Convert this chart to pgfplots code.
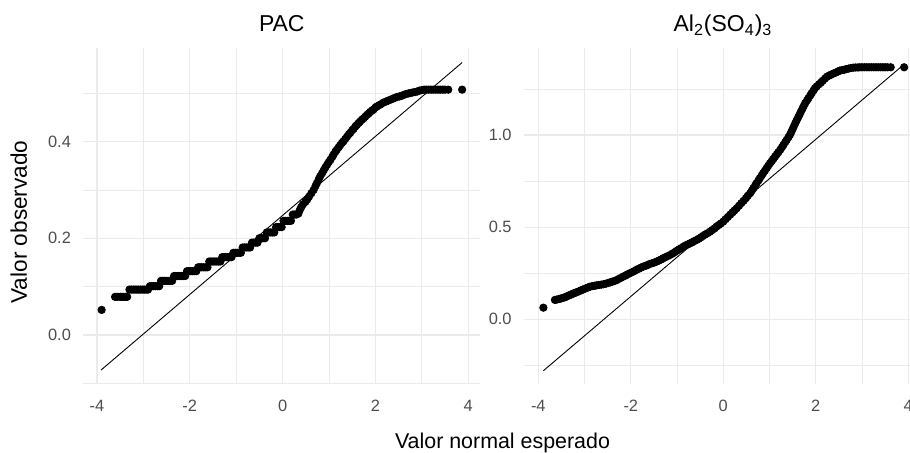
\documentclass[border=0pt]{standalone}
\usepackage{fontspec}
\setmainfont{Liberation Sans}
\usepackage{pgfplots}
\pgfplotsset{compat=1.18}

\definecolor{grid92}{RGB}{235,235,235}
\definecolor{tick30}{RGB}{77,77,77}

\pgfplotsset{
  qqpanel/.style={
    scale only axis,
    width=198.5pt, height=167.75pt,
    anchor=south west,
    axis line style={draw=none},
    major tick length=0pt, minor tick length=0pt,
    tick style={draw=none},
    grid=both,
    major grid style={draw=grid92, line width=0.6pt},
    minor grid style={draw=grid92, line width=0.35pt},
    xtick={-4,-2,0,2,4},
    xticklabels={-4,-2,0,2,4},
    minor xtick={-3,-1,1,3},
    ticklabel style={font=\fontsize{8.2}{9.8}\selectfont, text=tick30, inner sep=0pt},
    xticklabel style={anchor=north, yshift=-8pt},
    yticklabel style={anchor=east, xshift=-6pt},
  },
  qqpts/.style={only marks, mark=*, mark size=1.85pt, black, mark options={draw=black, fill=black}},
  qqline/.style={black, line width=0.45pt, no marks},
}

\begin{document}
\begin{tikzpicture}

% PAC
\begin{axis}[qqpanel, at={(41.65pt,34.5pt)},
  xmin=-4.295, xmax=4.261, ymin=-0.101, ymax=0.592,
  ytick={0,0.2,0.4}, yticklabels={0.0,0.2,0.4},
  minor ytick={-0.1,0.1,0.3,0.5}]
\addplot[qqline] coordinates {(-3.91,-0.072) (3.87,0.563)};
\addplot[qqpts] coordinates {
(-3.90,0.052)
(-3.61,0.079) (-3.56,0.079) (-3.50,0.079) (-3.46,0.079) (-3.42,0.079) (-3.38,0.079) (-3.35,0.079)
(-3.30,0.094) (-3.26,0.094) (-3.22,0.094) (-3.18,0.094) (-3.14,0.094) (-3.10,0.094)
(-3.06,0.094) (-3.02,0.094) (-2.98,0.094) (-2.94,0.094) (-2.90,0.094)
(-2.86,0.101) (-2.82,0.101) (-2.78,0.101) (-2.74,0.101) (-2.70,0.101) (-2.66,0.101)
(-2.62,0.112) (-2.58,0.112) (-2.54,0.112) (-2.50,0.112) (-2.46,0.112) (-2.42,0.112) (-2.38,0.112)
(-2.34,0.122) (-2.30,0.122) (-2.26,0.122) (-2.22,0.122) (-2.18,0.122) (-2.14,0.122) (-2.10,0.122)
(-2.06,0.132) (-2.02,0.132) (-1.98,0.132) (-1.94,0.132) (-1.90,0.132) (-1.86,0.132)
(-1.82,0.140) (-1.78,0.140) (-1.74,0.140) (-1.70,0.140) (-1.66,0.140) (-1.62,0.140)
(-1.58,0.152) (-1.54,0.152) (-1.50,0.152) (-1.46,0.152) (-1.42,0.152) (-1.38,0.152) (-1.34,0.152)
(-1.30,0.161) (-1.26,0.161) (-1.22,0.161) (-1.18,0.161) (-1.14,0.161) (-1.10,0.161)
(-1.06,0.170) (-1.02,0.170) (-0.98,0.170) (-0.94,0.170) (-0.90,0.170)
(-0.86,0.181) (-0.82,0.181) (-0.78,0.181) (-0.74,0.181) (-0.70,0.181)
(-0.66,0.191) (-0.62,0.191) (-0.58,0.191) (-0.54,0.191)
(-0.50,0.200) (-0.46,0.200) (-0.42,0.200) (-0.38,0.200)
(-0.34,0.212) (-0.30,0.212) (-0.26,0.212) (-0.22,0.212) (-0.18,0.212)
(-0.14,0.223) (-0.10,0.223) (-0.06,0.223) (-0.02,0.223)
(0.02,0.236) (0.06,0.236) (0.10,0.236) (0.14,0.236) (0.18,0.236)
(0.22,0.249) (0.26,0.249) (0.30,0.249) (0.34,0.251)
(0.37,0.258) (0.40,0.264) (0.44,0.270) (0.49,0.275) (0.53,0.280)
(0.57,0.286) (0.62,0.293) (0.67,0.300)
(0.71,0.308) (0.74,0.314) (0.78,0.322) (0.81,0.328)
(0.85,0.334) (0.89,0.341) (0.92,0.346) (0.96,0.352)
(1.00,0.358) (1.03,0.362) (1.07,0.368) (1.10,0.373) (1.14,0.379) (1.17,0.383)
(1.21,0.388) (1.24,0.392) (1.28,0.397) (1.31,0.400) (1.35,0.405) (1.39,0.410)
(1.43,0.415) (1.46,0.418) (1.50,0.423) (1.53,0.426) (1.57,0.431) (1.60,0.434)
(1.64,0.438) (1.67,0.441) (1.71,0.445) (1.75,0.448) (1.78,0.451) (1.82,0.455)
(1.86,0.458) (1.89,0.461) (1.93,0.464) (1.96,0.466) (2.00,0.470) (2.03,0.472)
(2.08,0.475) (2.12,0.477) (2.17,0.480) (2.22,0.482) (2.27,0.484) (2.32,0.486)
(2.37,0.488) (2.42,0.490) (2.47,0.492) (2.52,0.493) (2.56,0.494) (2.61,0.496)
(2.66,0.498) (2.71,0.499) (2.75,0.500) (2.80,0.501) (2.85,0.502) (2.90,0.503)
(2.95,0.505) (3.00,0.506) (3.05,0.507) (3.10,0.507) (3.15,0.507) (3.20,0.507)
(3.25,0.507) (3.30,0.507) (3.35,0.507) (3.40,0.507) (3.45,0.507) (3.50,0.507)
(3.57,0.507) (3.87,0.507)
};
\end{axis}

% Al2(SO4)3
\begin{axis}[qqpanel, at={(262pt,34.5pt)},
  xmin=-4.309, xmax=4.275, ymin=-0.351, ymax=1.469,
  ytick={0,0.5,1}, yticklabels={0.0,0.5,1.0},
  minor ytick={-0.25,0.25,0.75,1.25}]
\addplot[qqline] coordinates {(-3.89,-0.279) (3.89,1.379)};
\addplot[qqpts] coordinates {
(-3.89,0.063)
(-3.64,0.105) (-3.60,0.107) (-3.55,0.110) (-3.51,0.113) (-3.47,0.116) (-3.43,0.119)
(-3.39,0.123) (-3.35,0.128) (-3.31,0.132) (-3.28,0.136) (-3.24,0.140) (-3.20,0.144)
(-3.17,0.147) (-3.12,0.152) (-3.08,0.157) (-3.03,0.162) (-2.98,0.167) (-2.93,0.172)
(-2.88,0.177) (-2.83,0.180) (-2.78,0.182) (-2.74,0.184) (-2.69,0.186) (-2.64,0.188)
(-2.59,0.190) (-2.54,0.193) (-2.49,0.197) (-2.45,0.200) (-2.40,0.204) (-2.35,0.208)
(-2.30,0.213) (-2.26,0.219) (-2.21,0.225) (-2.16,0.232) (-2.11,0.238) (-2.07,0.244)
(-2.02,0.250) (-1.97,0.256) (-1.92,0.262) (-1.88,0.268) (-1.83,0.274) (-1.78,0.280)
(-1.73,0.286) (-1.68,0.290) (-1.63,0.295) (-1.59,0.300) (-1.54,0.304) (-1.49,0.308)
(-1.44,0.313) (-1.39,0.319) (-1.34,0.325) (-1.30,0.331) (-1.25,0.337) (-1.20,0.343)
(-1.15,0.349) (-1.10,0.356) (-1.05,0.364) (-1.01,0.371) (-0.96,0.379) (-0.91,0.386)
(-0.86,0.394) (-0.82,0.400) (-0.77,0.406) (-0.72,0.412) (-0.67,0.418) (-0.63,0.424)
(-0.58,0.430) (-0.53,0.437) (-0.48,0.445) (-0.44,0.452) (-0.39,0.460) (-0.34,0.467)
(-0.29,0.475) (-0.24,0.484) (-0.19,0.493) (-0.15,0.502) (-0.10,0.511) (-0.05,0.520)
(0.00,0.530) (0.05,0.543) (0.10,0.555) (0.15,0.568) (0.20,0.580)
(0.24,0.590) (0.29,0.602) (0.34,0.616) (0.39,0.630) (0.44,0.643)
(0.49,0.657) (0.53,0.670) (0.58,0.684) (0.62,0.699) (0.65,0.711)
(0.69,0.726) (0.72,0.738) (0.76,0.753) (0.79,0.765) (0.83,0.780)
(0.86,0.792) (0.90,0.806) (0.94,0.821) (0.97,0.832) (1.01,0.846)
(1.05,0.859) (1.08,0.869) (1.12,0.883) (1.16,0.896) (1.19,0.906)
(1.23,0.919) (1.27,0.934) (1.30,0.946) (1.34,0.961) (1.37,0.973)
(1.41,0.988) (1.44,1.000) (1.47,1.016) (1.50,1.032) (1.53,1.049)
(1.56,1.065) (1.59,1.081) (1.62,1.096) (1.65,1.111) (1.68,1.127)
(1.71,1.142) (1.74,1.157) (1.77,1.172) (1.81,1.187) (1.84,1.199)
(1.88,1.214) (1.91,1.226) (1.95,1.241) (1.98,1.253) (2.02,1.263)
(2.07,1.275) (2.11,1.284) (2.15,1.294) (2.20,1.306) (2.24,1.316)
(2.29,1.322) (2.33,1.327) (2.38,1.333) (2.43,1.338) (2.48,1.344) (2.52,1.349)
(2.57,1.352) (2.62,1.354) (2.66,1.357) (2.71,1.360) (2.76,1.363) (2.81,1.365)
(2.86,1.366) (2.91,1.366) (2.95,1.367) (3.00,1.367) (3.05,1.367) (3.10,1.367)
(3.15,1.367) (3.20,1.367) (3.25,1.367) (3.30,1.367) (3.35,1.367) (3.40,1.367)
(3.45,1.367) (3.50,1.367) (3.55,1.367) (3.62,1.367) (3.91,1.367)
};
\end{axis}

\node[anchor=base, inner sep=0pt, font=\fontsize{11.5}{13.8}\selectfont] at (140.9pt,210.65pt) {PAC};
\node[anchor=base, inner sep=0pt, font=\fontsize{11.5}{13.8}\selectfont] at (361.5pt,210.65pt) {Al\textsubscript{2}(SO\textsubscript{4})\textsubscript{3}};
\node[anchor=base, inner sep=0pt, font=\fontsize{10.7}{12.8}\selectfont] at (251.25pt,2.25pt) {Valor normal esperado};
\node[anchor=north, rotate=90, inner sep=0pt, font=\fontsize{11.3}{13.6}\selectfont] at (5pt,115.5pt) {Valor observado};

\pgfresetboundingbox
\useasboundingbox (0,0) rectangle (455pt,226.5pt);
\end{tikzpicture}
\end{document}
